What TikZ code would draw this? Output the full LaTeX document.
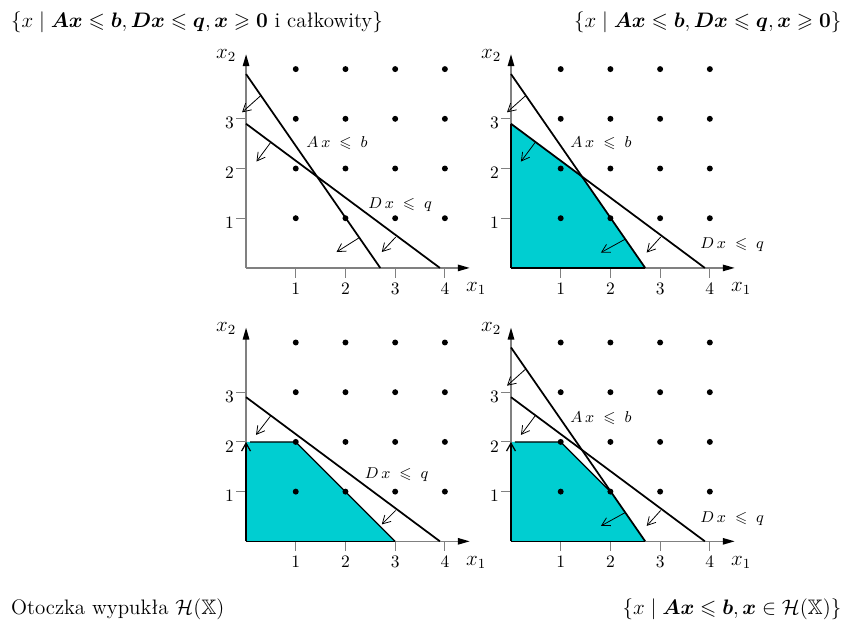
\documentclass[tikz,border=0pt]{standalone}
\usepackage{amsmath,amssymb,bm}
\usetikzlibrary{arrows.meta}
\definecolor{turkus}{RGB}{0,206,209}

% punkty kratowe, osie i podzialka jednego wykresu
\newcommand{\osie}{%
  \foreach \i in {1,...,4}
    \foreach \j in {1,...,4}
      \fill (\i,\j) circle (0.06);
  \draw[os] (0,0) -- (4.5,0);
  \draw[os] (0,0) -- (0,4.3);
  \foreach \i in {1,...,4}
    \draw[kreska] (\i,0) -- (\i,-0.2) node[below, text=black, inner sep=2.5pt] {\i};
  \foreach \j in {1,2,3}
    \draw[kreska] (0,\j) -- (-0.2,\j) node[left, text=black, inner sep=1pt, yshift=-2.5pt] {\j};
  \node[osopis] (xa) at (4.63,-0.42) {$x_1$};
  \node[osopis] (xb) at (-0.4,4.28) {$x_2$};
}

\begin{document}
\begin{tikzpicture}[
  font=\normalsize,
  os/.style={gray, line width=0.8pt, -{Triangle[length=2.4mm, width=1.3mm, color=black]}},
  kreska/.style={gray, line width=0.6pt},
  prosta/.style={black, line width=1pt},
  krawedz/.style={black, line width=0.7pt},
  strz/.style={black, line width=0.45pt, -{Straight Barb[length=1.6mm, width=1.8mm]}},
  opis/.style={font=\small},
  osopis/.style={font=\large},
  tytul/.style={font=\large},
  wypel/.style={fill=turkus}
]
\useasboundingbox (-4.95,-7.36) rectangle (12.17,5.39);

% podpisy
\node[tytul, anchor=west] (t1) at (-4.85,4.95) {$\{x \mid \bm{Ax} \leqslant \bm{b}, \bm{Dx} \leqslant \bm{q}, \bm{x} \geqslant \bm{0}$ i całkowity$\}$};
\node[tytul, anchor=east] (t2) at (12.1,4.95) {$\{x \mid \bm{Ax} \leqslant \bm{b}, \bm{Dx} \leqslant \bm{q}, \bm{x} \geqslant \bm{0}\}$};
\node[tytul, anchor=west] (t3) at (-4.85,-6.86) {Otoczka wypukła $\mathcal{H}(\mathbb{X})$};
\node[tytul, anchor=east] (t4) at (12.1,-6.86) {$\{x \mid \bm{Ax} \leqslant \bm{b}, \bm{x} \in \mathcal{H}(\mathbb{X})\}$};

% wykres 1
\begin{scope}
  \osie
  \draw[prosta] (0,3.9) -- (2.7,0);
  \draw[prosta] (0,2.9) -- (3.9,0);
  \draw[strz] (0.3,3.47) -- (-0.08,3.13);
  \draw[strz] (2.28,0.61) -- (1.82,0.32);
  \draw[strz] (0.5,2.53) -- (0.21,2.14);
  \draw[strz] (3.01,0.62) -- (2.73,0.32);
  \node[opis] (a1) at (1.83,2.51) {$A\,x \;\leqslant\; b$};
  \node[opis] (d1) at (3.1,1.27) {$D\,x \;\leqslant\; q$};
\end{scope}

% wykres 2
\begin{scope}[xshift=5.33cm]
  \fill[wypel] (0,0) -- (0,2.9) -- (1.427,1.84) -- (2.7,0) -- cycle;
  \osie
  \draw[krawedz] (0,0) -- (0,2.9);
  \draw[krawedz] (0,0) -- (2.7,0);
  \draw[prosta] (0,3.9) -- (2.7,0);
  \draw[prosta] (0,2.9) -- (3.9,0);
  \draw[strz] (0.3,3.47) -- (-0.08,3.13);
  \draw[strz] (2.3,0.58) -- (1.81,0.31);
  \draw[strz] (0.49,2.53) -- (0.2,2.14);
  \draw[strz] (3.01,0.62) -- (2.73,0.31);
  \node[opis] (a2) at (1.81,2.52) {$A\,x \;\leqslant\; b$};
  \node[opis] (d2) at (4.45,0.47) {$D\,x \;\leqslant\; q$};
\end{scope}

% wykres 3
\begin{scope}[yshift=-5.5cm]
  \fill[wypel] (0,0) -- (0,2) -- (1,2) -- (3,0) -- cycle;
  \osie
  \draw[krawedz] (0,0) -- (3,0);
  \draw[krawedz, -{Straight Barb[length=1.6mm, width=1.8mm]}] (0,0) -- (0,2);
  \draw[krawedz] (0.08,2) -- (1,2) -- (3,0);
  \draw[prosta] (0,2.9) -- (3.9,0);
  \draw[strz] (0.5,2.53) -- (0.2,2.14);
  \draw[strz] (3.01,0.62) -- (2.73,0.34);
  \node[opis] (d3) at (3.03,1.34) {$D\,x \;\leqslant\; q$};
\end{scope}

% wykres 4
\begin{scope}[xshift=5.33cm, yshift=-5.5cm]
  \fill[wypel] (0,0) -- (0,2) -- (1,2) -- (2,1) -- (2.7,0) -- cycle;
  \osie
  \draw[krawedz] (0,0) -- (2.7,0);
  \draw[krawedz, -{Straight Barb[length=1.6mm, width=1.8mm]}] (0,0) -- (0,2);
  \draw[krawedz] (0.08,2) -- (1,2) -- (2,1);
  \draw[prosta] (0,3.9) -- (2.7,0);
  \draw[prosta] (0,2.9) -- (3.9,0);
  \draw[strz] (0.3,3.47) -- (-0.08,3.13);
  \draw[strz] (2.3,0.58) -- (1.81,0.31);
  \draw[strz] (0.49,2.53) -- (0.2,2.14);
  \draw[strz] (3.01,0.62) -- (2.73,0.31);
  \node[opis] (a4) at (1.81,2.47) {$A\,x \;\leqslant\; b$};
  \node[opis] (d4) at (4.45,0.46) {$D\,x \;\leqslant\; q$};
\end{scope}
\end{tikzpicture}
\end{document}
